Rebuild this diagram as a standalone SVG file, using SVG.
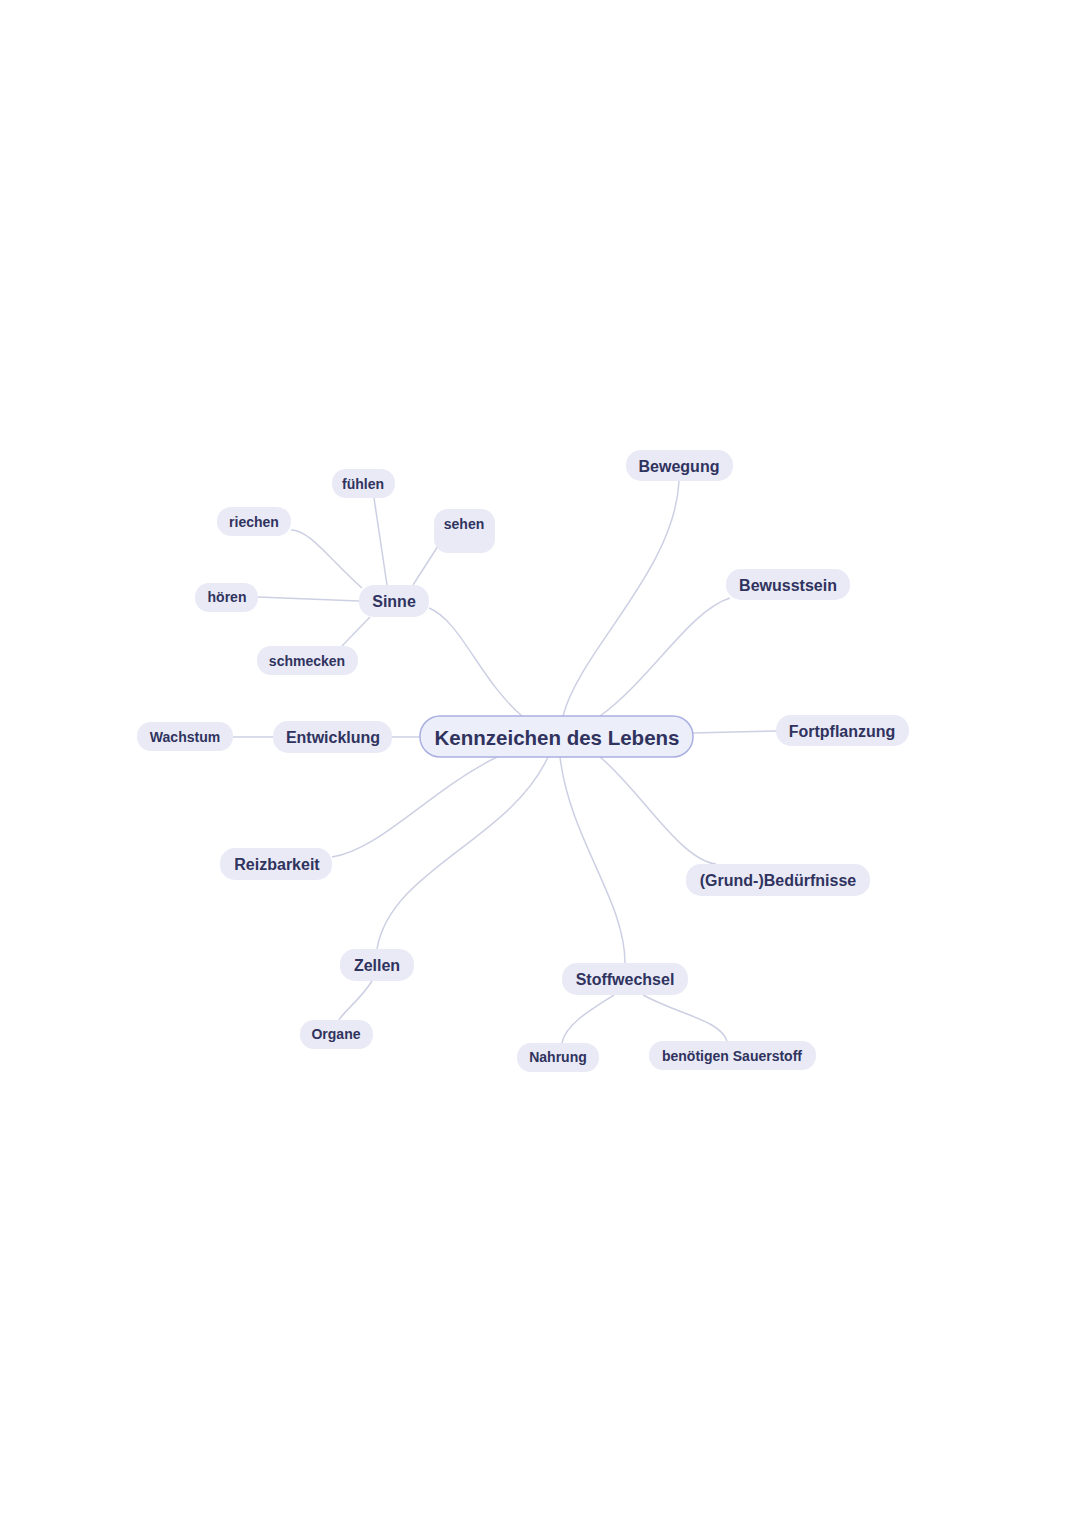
<svg xmlns="http://www.w3.org/2000/svg" width="1080" height="1527" viewBox="0 0 1080 1527">
<style>
.n{fill:#e9eaf6;}
.t{font-family:"Liberation Sans",Arial,sans-serif;font-weight:bold;fill:#30335e;text-anchor:middle;dominant-baseline:central;}
.l{font-size:16px;}
.s{font-size:14px;}
.c{fill:none;stroke:#cdd0e3;stroke-width:1.5;}
</style>
<rect width="1080" height="1527" fill="#ffffff"/>
<g id="connectors">
<path class="c" d="M563,716 C580,650 675,570 679,481"/>
<path class="c" d="M600,716 C650,680 690,610 730,598"/>
<path class="c" d="M693,733 L776,731"/>
<path class="c" d="M600,757 C640,790 680,860 716,864"/>
<path class="c" d="M560,757 C570,840 625,900 625,963"/>
<path class="c" d="M548,757 C510,840 390,870 377,949"/>
<path class="c" d="M497,757 C430,790 380,850 332,857"/>
<path class="c" d="M420,737 L392,737"/>
<path class="c" d="M522,716 C480,680 460,620 429,608"/>
<path class="c" d="M273,737 L233,737"/>
<path class="c" d="M387,585 L374,498"/>
<path class="c" d="M362,588 C330,560 310,530 291,530"/>
<path class="c" d="M413,585 L438,546"/>
<path class="c" d="M359,601 L258,597"/>
<path class="c" d="M370,617 L342,646"/>
<path class="c" d="M372,981 C360,1000 345,1010 339,1020"/>
<path class="c" d="M614,995 C590,1010 565,1025 562,1043"/>
<path class="c" d="M643,995 C680,1015 720,1020 727,1041"/>
</g>
<g id="central"><rect x="420" y="716" width="273" height="41" rx="20" fill="#eceef9" stroke="#aab0e2" stroke-width="1.5"/><text class="t" x="557" y="737" font-size="20.5">Kennzeichen des Lebens</text></g>
<g id="bewegung"><rect class="n" x="626" y="450" width="107" height="31" rx="15"/><text class="t l" x="679" y="466">Bewegung</text></g>
<g id="bewusstsein"><rect class="n" x="726" y="569" width="124" height="31" rx="15"/><text class="t l" x="788" y="585">Bewusstsein</text></g>
<g id="fortpflanzung"><rect class="n" x="776" y="715" width="133" height="31" rx="15"/><text class="t l" x="842" y="731">Fortpflanzung</text></g>
<g id="beduerfnisse"><rect class="n" x="686" y="864" width="184" height="32" rx="15"/><text class="t l" x="778" y="880">(Grund-)Bedürfnisse</text></g>
<g id="stoffwechsel"><rect class="n" x="562" y="963" width="126" height="32" rx="15"/><text class="t l" x="625" y="979">Stoffwechsel</text></g>
<g id="nahrung"><rect class="n" x="517" y="1043" width="82" height="29" rx="14"/><text class="t s" x="558" y="1057">Nahrung</text></g>
<g id="sauerstoff"><rect class="n" x="649" y="1041" width="167" height="29" rx="14"/><text class="t s" x="732" y="1056">benötigen Sauerstoff</text></g>
<g id="zellen"><rect class="n" x="340" y="949" width="74" height="32" rx="15"/><text class="t l" x="377" y="965">Zellen</text></g>
<g id="organe"><rect class="n" x="300" y="1020" width="73" height="29" rx="14"/><text class="t s" x="336" y="1034">Organe</text></g>
<g id="reizbarkeit"><rect class="n" x="220" y="848" width="112" height="32" rx="15"/><text class="t l" x="277" y="864">Reizbarkeit</text></g>
<g id="entwicklung"><rect class="n" x="273" y="721" width="119" height="32" rx="15"/><text class="t l" x="333" y="737">Entwicklung</text></g>
<g id="wachstum"><rect class="n" x="137" y="722" width="96" height="29" rx="14"/><text class="t s" x="185" y="737">Wachstum</text></g>
<g id="sinne"><rect class="n" x="359" y="585" width="70" height="32" rx="15"/><text class="t l" x="394" y="601">Sinne</text></g>
<g id="fuehlen"><rect class="n" x="332" y="469" width="63" height="29" rx="14"/><text class="t s" x="363" y="484">fühlen</text></g>
<g id="riechen"><rect class="n" x="217" y="507" width="74" height="29" rx="14"/><text class="t s" x="254" y="522">riechen</text></g>
<g id="sehen"><rect class="n" x="434" y="509" width="61" height="44" rx="14"/><text class="t s" x="464" y="524">sehen</text></g>
<g id="hoeren"><rect class="n" x="195" y="583" width="63" height="29" rx="14"/><text class="t s" x="227" y="597">hören</text></g>
<g id="schmecken"><rect class="n" x="257" y="646" width="101" height="29" rx="14"/><text class="t s" x="307" y="661">schmecken</text></g>
</svg>
